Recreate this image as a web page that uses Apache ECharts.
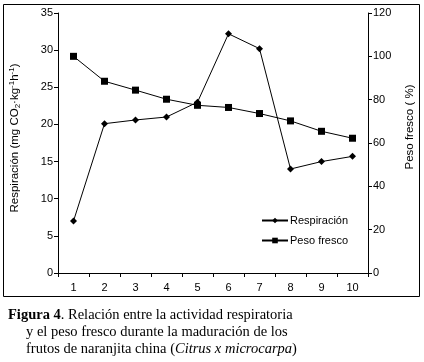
<!DOCTYPE html>
<html>
<head>
<meta charset="utf-8">
<script src="https://cdn.jsdelivr.net/npm/echarts@6/dist/echarts.min.js"></script>
<style>
  html, body { margin: 0; padding: 0; background: #fff; }
  #chart { width: 424px; height: 362px; }
</style>
</head>
<body>
<div id="chart"></div>
<script>
// datos
const dias = ['1', '2', '3', '4', '5', '6', '7', '8', '9', '10']
const respiracion = [7, 20.1, 20.6, 21, 23, 32.2, 30.2, 14, 15, 15.7]
const pesoFresco = [100, 88.5, 84.4, 80.2, 77.4, 76.4, 73.6, 70.2, 65.4, 62.2]

const chart = echarts.init(document.getElementById('chart'))
const font = 'Arial, "Liberation Sans", sans-serif'
const serif = '"Liberation Serif", "Times New Roman", serif'

const axisCommon = {
  axisLine: { show: true, lineStyle: { color: '#000', width: 1 } },
  axisTick: { show: true, length: 4, lineStyle: { color: '#000' } },
  axisLabel: { color: '#000', fontFamily: font, fontSize: 11, margin: 5 },
  splitLine: { show: false },
}

const option = {
  animation: false,
  grid: { left: 57, right: 52, top: 13, bottom: 89 },
  legend: {
    orient: 'vertical',
    left: 256,
    top: 210,
    itemWidth: 26,
    itemHeight: 7,
    itemGap: 9,
    textStyle: { color: '#000', fontFamily: font, fontSize: 11, padding: [0, 0, 0, -3] },
    data: ['Respiración', 'Peso fresco'],
  },
  xAxis: {
    type: 'category',
    data: dias,
    boundaryGap: true,
    ...axisCommon,
    axisLabel: { ...axisCommon.axisLabel, margin: 9 },
    axisTick: { ...axisCommon.axisTick, alignWithLabel: false },
  },
  yAxis: [
    {
      type: 'value',
      min: 0, max: 35, interval: 5,
      position: 'left',
      ...axisCommon,
      name: '{t|Respiración (mg CO}{s|2}{t|·kg}{p|-1}{t|h}{p|-1}{t|)}',
      nameLocation: 'middle',
      nameGap: 36,
      nameRotate: 90,
      nameTextStyle: {
        padding: [0, 0, 0, 10],
        rich: {
          t: { fontFamily: font, fontSize: 11.5, color: '#000', verticalAlign: 'middle' },
          s: { fontFamily: font, fontSize: 8, color: '#000', verticalAlign: 'bottom', padding: [6, 0, 0, 0] },
          p: { fontFamily: font, fontSize: 8, color: '#000', verticalAlign: 'top', padding: [0, 0, 6, 0] },
        },
      },
    },
    {
      type: 'value',
      min: 0, max: 120, interval: 20,
      position: 'right',
      ...axisCommon,
      name: 'Peso fresco ( %)',
      nameLocation: 'middle',
      nameGap: 36,
      nameRotate: 90,
      nameTextStyle: { color: '#000', fontFamily: font, fontSize: 11.5, padding: [0, 0, 0, 32] },
    },
  ],
  series: [
    {
      name: 'Respiración',
      type: 'line',
      yAxisIndex: 0,
      data: respiracion,
      symbol: 'diamond',
      symbolSize: 7,
      lineStyle: { color: '#000', width: 1 },
      itemStyle: { color: '#000' },
    },
    {
      name: 'Peso fresco',
      type: 'line',
      yAxisIndex: 1,
      data: pesoFresco,
      symbol: 'rect',
      symbolSize: 7,
      lineStyle: { color: '#000', width: 1 },
      itemStyle: { color: '#000' },
    },
  ],
  graphic: [
    {
      type: 'rect',
      shape: { x: 3.5, y: 4.5, width: 416, height: 292 },
      style: { fill: 'none', stroke: '#000', lineWidth: 1 },
      silent: true,
    },
    {
      type: 'text',
      left: 8,
      top: 308,
      style: {
        text: '{b|Figura 4}{n|. Relación entre la actividad respiratoria}',
        rich: {
          b: { fontFamily: serif, fontSize: 14.5, fontWeight: 'bold', fill: '#000' },
          n: { fontFamily: serif, fontSize: 14.5, fill: '#000' },
        },
      },
    },
    {
      type: 'text',
      left: 26,
      top: 325,
      style: { text: 'y el peso fresco durante la maduración de los', font: '14.5px ' + serif, fill: '#000' },
    },
    {
      type: 'text',
      left: 26,
      top: 342,
      style: {
        text: '{n|frutos de naranjita china (}{i|Citrus x microcarpa}{n|)}',
        rich: {
          n: { fontFamily: serif, fontSize: 14.5, fill: '#000' },
          i: { fontFamily: serif, fontSize: 14.5, fontStyle: 'italic', fill: '#000' },
        },
      },
    },
  ],
}

chart.setOption(option)
</script>
</body>
</html>
